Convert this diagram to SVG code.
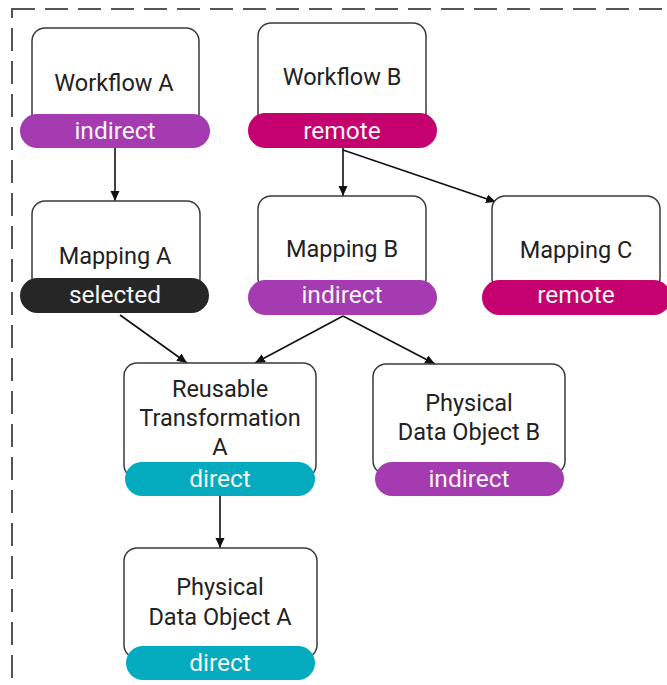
<svg xmlns="http://www.w3.org/2000/svg" width="667" height="685" viewBox="0 0 667 685">
<defs>
<style>
.box{fill:#fff;stroke:#3a3a3a;stroke-width:1.5}
.lbl{font-family:Roboto,"Liberation Sans",sans-serif;font-size:23.5px;fill:#222;text-anchor:middle}
.tag{font-family:Roboto,"Liberation Sans",sans-serif;font-size:24.5px;fill:#f4f4f4;text-anchor:middle}
.indirect{fill:#a43bb0}
.remote{fill:#c5006f}
.selected{fill:#262626}
.direct{fill:#04aabe}
.edge{stroke:#111;stroke-width:1.6;fill:none;marker-end:url(#arr)}
</style>
<marker id="arr" markerWidth="11" markerHeight="10" refX="10" refY="4.5" orient="auto" markerUnits="userSpaceOnUse">
<path d="M0,0 L10,4.5 L0,9 Z" fill="#111"/>
</marker>
</defs>
<rect width="667" height="685" fill="#fff"/>
<rect x="12" y="9" width="720" height="720" fill="none" stroke="#555" stroke-width="2" stroke-dasharray="23 10"/>
<g id="connectors">
<path class="edge" d="M115,148 L115,201"/>
<path class="edge" d="M343,148 L343,196"/>
<path class="edge" d="M343,150 L496,202"/>
<path class="edge" d="M120,315 L187,363"/>
<path class="edge" d="M343,316 L255,363"/>
<path class="edge" d="M343,316 L435,364"/>
<path class="edge" d="M220,496 L220,548"/>
</g>
<g id="workflow-a">
<rect class="box" x="32" y="28" width="167" height="110" rx="13"/>
<rect class="indirect" x="20" y="114" width="190" height="34" rx="17"/>
<text class="lbl" x="114" y="91">Workflow A</text>
<text class="tag" x="115" y="139">indirect</text>
</g>
<g id="workflow-b">
<rect class="box" x="258" y="23" width="168" height="110" rx="13"/>
<rect class="remote" x="248" y="113" width="189" height="35" rx="17.5"/>
<text class="lbl" x="342" y="85">Workflow B</text>
<text class="tag" x="342" y="139">remote</text>
</g>
<g id="mapping-a">
<rect class="box" x="32" y="201" width="168" height="90" rx="13"/>
<rect class="selected" x="20" y="278" width="189" height="35" rx="17.5"/>
<text class="lbl" x="115" y="264">Mapping A</text>
<text class="tag" x="115" y="303">selected</text>
</g>
<g id="mapping-b">
<rect class="box" x="258" y="196" width="168" height="95" rx="13"/>
<rect class="indirect" x="248" y="280" width="189" height="35" rx="17.5"/>
<text class="lbl" x="342" y="257">Mapping B</text>
<text class="tag" x="342" y="303">indirect</text>
</g>
<g id="mapping-c">
<rect class="box" x="492" y="196" width="168" height="95" rx="13"/>
<rect class="remote" x="482" y="280" width="189" height="35" rx="17.5"/>
<text class="lbl" x="576" y="258">Mapping C</text>
<text class="tag" x="576" y="303">remote</text>
</g>
<g id="reusable-transformation-a">
<rect class="box" x="124" y="363" width="192" height="115" rx="13"/>
<rect class="direct" x="125" y="462" width="190" height="34" rx="17"/>
<text class="lbl" x="220" y="397">Reusable</text>
<text class="lbl" x="220" y="426">Transformation</text>
<text class="lbl" x="220" y="455">A</text>
<text class="tag" x="220" y="487">direct</text>
</g>
<g id="physical-data-object-b">
<rect class="box" x="373" y="364" width="192" height="110" rx="13"/>
<rect class="indirect" x="375" y="462" width="189" height="34" rx="17"/>
<text class="lbl" x="469" y="411">Physical</text>
<text class="lbl" x="469" y="440">Data Object B</text>
<text class="tag" x="469" y="487">indirect</text>
</g>
<g id="physical-data-object-a">
<rect class="box" x="124" y="548" width="193" height="110" rx="13"/>
<rect class="direct" x="126" y="646" width="189" height="34" rx="17"/>
<text class="lbl" x="220" y="595">Physical</text>
<text class="lbl" x="220" y="625">Data Object A</text>
<text class="tag" x="220" y="671">direct</text>
</g>
</svg>
